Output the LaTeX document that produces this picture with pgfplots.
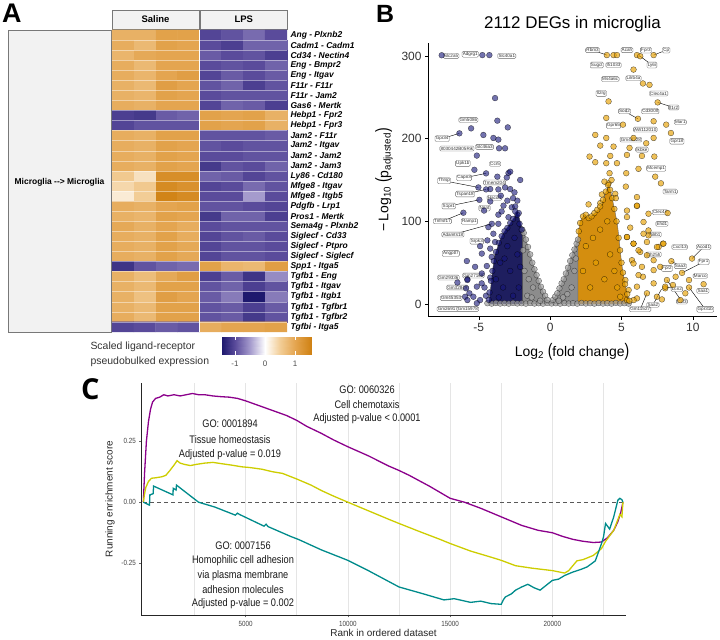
\documentclass[border=0pt]{standalone}
\usepackage{fontspec}
\setmainfont{Liberation Sans}
\newfontfamily\narrow[FakeStretch=0.84]{Liberation Sans}
\newfontfamily\osans{Open Sans}
\usepackage{graphicx}
\usepackage{pgfplots}
\pgfplotsset{compat=1.18}

\definecolor{gpurple}{RGB}{139,0,139}
\definecolor{gyellow}{RGB}{205,205,0}
\definecolor{gteal}{RGB}{0,139,139}
\definecolor{vnavy}{RGB}{20,20,120}
\definecolor{vnavyd}{RGB}{30,30,95}
\definecolor{vorange}{RGB}{230,159,0}
\definecolor{vorangeD}{RGB}{212,142,15}
\definecolor{vgrey}{RGB}{160,160,160}
\definecolor{vgreyD}{RGB}{140,140,140}
\definecolor{stripfill}{RGB}{242,242,242}
\definecolor{stripdraw}{RGB}{120,120,120}

\pgfplotsset{
 colormap={lrmap}{rgb255(0pt)=(30,25,110) rgb255(43pt)=(90,75,155) rgb255(93pt)=(165,155,205) rgb255(143pt)=(255,255,255) rgb255(193pt)=(242,205,150) rgb255(243pt)=(228,165,80) rgb255(296pt)=(208,130,20)},
 bluept/.style={only marks, mark=*, mark size=2.9bp, mark options={fill=vnavy, fill opacity=0.6, draw=black, draw opacity=0.7, line width=0.3bp}},
 orgpt/.style={only marks, mark=*, mark size=2.9bp, mark options={fill=vorange, fill opacity=0.65, draw=black, draw opacity=0.7, line width=0.3bp}},
 grypt/.style={only marks, mark=*, mark size=2.9bp, mark options={fill=vgrey, fill opacity=0.7, draw=black, draw opacity=0.6, line width=0.3bp}},
}
\tikzset{lbl/.style={draw=black!60, fill=white, fill opacity=0.9, text opacity=1, text=black!80, rounded corners=1.2bp, inner sep=0.8bp, line width=0.35bp, font=\fontsize{4.6}{5}\selectfont},
 con/.style={line width=0.4bp, black}}

\begin{document}
\begin{tikzpicture}
\useasboundingbox (0,0) rectangle (720bp,640bp);

% ---------------- Panel A ----------------
\begin{scope}[x=1bp,y=1bp]
\node[font=\bfseries\fontsize{27}{27}\selectfont, anchor=north west, inner sep=0] at (2,636) {A};
\draw[stripdraw, fill=stripfill, line width=0.6bp] (8,610) rectangle (111,308);
\node[font=\bfseries\fontsize{8.5}{9}\selectfont] at (59.5,458) {Microglia -{}-{}> Microglia};
\draw[stripdraw, fill=stripfill, line width=0.6bp] (112,630) rectangle (199,611);
\node[font=\bfseries\fontsize{9.5}{10}\selectfont] at (155.5,620.5) {Saline};
\draw[stripdraw, fill=stripfill, line width=0.6bp] (200.5,630) rectangle (287,611);
\node[font=\bfseries\fontsize{9.5}{10}\selectfont] at (243.75,620.5) {LPS};
\end{scope}

\begin{axis}[at={(112bp,610bp)}, anchor=north west, scale only axis, width=175bp, height=302bp,
 xmin=0.5, xmax=8.5, ymin=0.5, ymax=30.5, y dir=reverse,
 colormap name=lrmap, point meta min=-1.43, point meta max=1.53,
 axis line style={draw=none}, xtick=\empty, ytick={1,...,30}, yticklabel pos=right,
 yticklabels={Ang - Plxnb2, Cadm1 - Cadm1, Cd34 - Nectin4, Eng - Bmpr2, Eng - Itgav, F11r - F11r, F11r - Jam2, Gas6 - Mertk, Hebp1 - Fpr2, Hebp1 - Fpr3, Jam2 - F11r, Jam2 - Itgav, Jam2 - Jam2, Jam2 - Jam3, Ly86 - Cd180, Mfge8 - Itgav, Mfge8 - Itgb5, Pdgfb - Lrp1, Pros1 - Mertk, Sema4g - Plxnb2, Siglecf - Cd33, Siglecf - Ptpro, Siglecf - Siglecf, Spp1 - Itga5, Tgfb1 - Eng, Tgfb1 - Itgav, Tgfb1 - Itgb1, Tgfb1 - Tgfbr1, Tgfb1 - Tgfbr2, Tgfbi - Itga5},
 yticklabel style={font=\bfseries\itshape\fontsize{8.5}{9}\selectfont, text=black, anchor=west},
 major tick length=0pt, minor tick length=0pt,
 minor xtick={1.5,2.5,3.5,5.5,6.5,7.5}, minor ytick={1.5,2.5,...,29.5}, xminorgrids, yminorgrids,
 minor grid style={white, line width=0.5bp, opacity=0.45}, axis on top, clip=false]
\addplot[matrix plot*, mesh/cols=8, point meta=explicit] coordinates {
(1,1)[0.85] (2,1)[0.85] (3,1)[1.05] (4,1)[1.05] (5,1)[-1.05] (6,1)[-0.95] (7,1)[-0.8] (8,1)[-1.0]
(1,2)[0.9] (2,2)[0.75] (3,2)[1.05] (4,2)[1.0] (5,2)[-1.0] (6,2)[-1.1] (7,2)[-0.85] (8,2)[-0.85]
(1,3)[0.8] (2,3)[0.95] (3,3)[1.0] (4,3)[1.0] (5,3)[-0.9] (6,3)[-1.0] (7,3)[-0.95] (8,3)[-1.1]
(1,4)[0.9] (2,4)[0.75] (3,4)[1.0] (4,4)[1.0] (5,4)[-1.0] (6,4)[-0.95] (7,4)[-1.0] (8,4)[-0.85]
(1,5)[0.9] (2,5)[0.8] (3,5)[1.0] (4,5)[1.1] (5,5)[-1.05] (6,5)[-0.9] (7,5)[-1.0] (8,5)[-0.9]
(1,6)[0.85] (2,6)[0.75] (3,6)[1.1] (4,6)[1.0] (5,6)[-0.95] (6,6)[-0.85] (7,6)[-1.1] (8,6)[-0.95]
(1,7)[0.85] (2,7)[0.8] (3,7)[1.05] (4,7)[1.0] (5,7)[-1.0] (6,7)[-0.95] (7,7)[-0.95] (8,7)[-0.95]
(1,8)[0.9] (2,8)[0.85] (3,8)[1.0] (4,8)[1.0] (5,8)[-1.05] (6,8)[-0.85] (7,8)[-0.9] (8,8)[-1.1]
(1,9)[-1.1] (2,9)[-1.15] (3,9)[-0.9] (4,9)[-0.85] (5,9)[1.05] (6,9)[1.0] (7,9)[1.05] (8,9)[0.85]
(1,10)[-1.05] (2,10)[-0.95] (3,10)[-0.95] (4,10)[-0.95] (5,10)[1.05] (6,10)[1.0] (7,10)[1.05] (8,10)[0.85]
(1,11)[0.9] (2,11)[0.85] (3,11)[1.05] (4,11)[1.05] (5,11)[-0.95] (6,11)[-0.95] (7,11)[-0.95] (8,11)[-0.9]
(1,12)[0.9] (2,12)[0.85] (3,12)[1.05] (4,12)[1.0] (5,12)[-0.95] (6,12)[-1.0] (7,12)[-0.95] (8,12)[-0.95]
(1,13)[0.9] (2,13)[0.85] (3,13)[1.05] (4,13)[1.0] (5,13)[-1.0] (6,13)[-1.0] (7,13)[-0.95] (8,13)[-0.95]
(1,14)[0.9] (2,14)[0.85] (3,14)[1.05] (4,14)[1.0] (5,14)[-1.15] (6,14)[-0.95] (7,14)[-1.0] (8,14)[-0.85]
(1,15)[0.55] (2,15)[0.3] (3,15)[1.35] (4,15)[1.35] (5,15)[-0.85] (6,15)[-0.9] (7,15)[-1.05] (8,15)[-0.95]
(1,16)[0.4] (2,16)[0.55] (3,16)[1.4] (4,16)[1.3] (5,16)[-1.05] (6,16)[-1.0] (7,16)[-0.8] (8,16)[-0.95]
(1,17)[0.2] (2,17)[0.5] (3,17)[1.5] (4,17)[1.4] (5,17)[-1.0] (6,17)[-1.0] (7,17)[-0.5] (8,17)[-1.0]
(1,18)[0.9] (2,18)[0.85] (3,18)[1.0] (4,18)[1.05] (5,18)[-0.95] (6,18)[-0.95] (7,18)[-1.0] (8,18)[-1.05]
(1,19)[0.85] (2,19)[0.8] (3,19)[1.05] (4,19)[1.0] (5,19)[-1.15] (6,19)[-0.85] (7,19)[-0.85] (8,19)[-1.1]
(1,20)[0.95] (2,20)[0.85] (3,20)[1.0] (4,20)[0.9] (5,20)[-1.0] (6,20)[-0.95] (7,20)[-0.95] (8,20)[-0.95]
(1,21)[0.9] (2,21)[0.85] (3,21)[1.05] (4,21)[0.9] (5,21)[-1.05] (6,21)[-0.95] (7,21)[-0.9] (8,21)[-1.0]
(1,22)[0.9] (2,22)[0.85] (3,22)[1.05] (4,22)[0.95] (5,22)[-1.05] (6,22)[-0.95] (7,22)[-0.95] (8,22)[-1.0]
(1,23)[0.9] (2,23)[0.85] (3,23)[1.05] (4,23)[0.95] (5,23)[-1.05] (6,23)[-0.95] (7,23)[-0.95] (8,23)[-1.0]
(1,24)[-1.2] (2,24)[-0.95] (3,24)[-0.85] (4,24)[-0.8] (5,24)[1.05] (6,24)[0.8] (7,24)[0.75] (8,24)[1.1]
(1,25)[0.85] (2,25)[0.7] (3,25)[0.95] (4,25)[1.1] (5,25)[-1.1] (6,25)[-0.9] (7,25)[-1.2] (8,25)[-0.6]
(1,26)[0.85] (2,26)[0.75] (3,26)[1.05] (4,26)[1.05] (5,26)[-0.95] (6,26)[-0.85] (7,26)[-1.1] (8,26)[-0.95]
(1,27)[0.85] (2,27)[0.65] (3,27)[1.1] (4,27)[1.0] (5,27)[-0.9] (6,27)[-0.7] (7,27)[-1.43] (8,27)[-0.7]
(1,28)[0.85] (2,28)[0.75] (3,28)[1.05] (4,28)[1.05] (5,28)[-0.95] (6,28)[-0.9] (7,28)[-1.1] (8,28)[-0.9]
(1,29)[0.9] (2,29)[0.75] (3,29)[1.05] (4,29)[1.05] (5,29)[-0.95] (6,29)[-0.9] (7,29)[-1.15] (8,29)[-0.95]
(1,30)[-1.05] (2,30)[-1.0] (3,30)[-0.9] (4,30)[-0.95] (5,30)[0.9] (6,30)[1.0] (7,30)[1.0] (8,30)[1.05]
};
\draw[white, line width=1.6bp] (axis cs:4.5,0.5) -- (axis cs:4.5,30.5);
\end{axis}

% colour bar
\begin{axis}[at={(222bp,303bp)}, anchor=north west, scale only axis, width=89bp, height=18bp,
 xmin=-1.43, xmax=1.53, ymin=0, ymax=1, view={0}{90}, hide axis, colormap name=lrmap,
 point meta min=-1.43, point meta max=1.53, clip=false]
\addplot3[surf, shader=interp, point meta=x, mesh/rows=2] coordinates {
(-1.43,0,0) (-1,0,0) (-0.5,0,0) (0,0,0) (0.5,0,0) (1,0,0) (1.53,0,0)
(-1.43,1,0) (-1,1,0) (-0.5,1,0) (0,1,0) (0.5,1,0) (1,1,0) (1.53,1,0)
};
\end{axis}
\begin{scope}[x=1bp,y=1bp]
\node[font=\fontsize{10.5}{11}\selectfont, text=black!80, anchor=west] at (87,293) {Scaled ligand-receptor};
\node[font=\fontsize{10.5}{11}\selectfont, text=black!80, anchor=west] at (87,278) {pseudobulked expression};
\foreach \xx in {234.9,265,295.1}{
 \draw[white, line width=0.6bp] (\xx,303) -- (\xx,299.5);
 \draw[white, line width=0.6bp] (\xx,288.5) -- (\xx,285);
}
\node[font=\fontsize{8}{8}\selectfont, text=black!70] at (234.9,276) {-1};
\node[font=\fontsize{8}{8}\selectfont, text=black!70] at (265,276) {0};
\node[font=\fontsize{8}{8}\selectfont, text=black!70] at (295.1,276) {1};

% ---------------- Panel B texts ----------------
\node[font=\bfseries\fontsize{25}{25}\selectfont, anchor=north west, inner sep=0] at (376,635) {B};
\node[font=\fontsize{17}{17}\selectfont] at (572.5,616) {2112 DEGs in microglia};
\node[rotate=90, font=\fontsize{14}{14}\selectfont] at (384,460) {−\,Log\textsubscript{10} \scalebox{1}[1.3]{(}p\textsubscript{adjusted}\scalebox{1}[1.3]{)}};
\node[font=\fontsize{14}{14}\selectfont] at (572,288) {Log\textsubscript{2} \scalebox{1}[1.3]{(}fold change\scalebox{1}[1.3]{)}};
\end{scope}

\begin{axis}[at={(428bp,597.3bp)}, anchor=north west, scale only axis, width=289bp, height=274bp,
 xmin=-8.56, xmax=11.69, ymin=-15.3, ymax=316,
 axis x line*=bottom, axis y line*=left, axis line style={line width=0.8bp, black, -},
 xtick={-5,0,5,10}, ytick={0,100,200,300}, tick align=outside, major tick length=3bp,
 tick style={line width=0.6bp, black},
 tick label style={font=\fontsize{12}{12}\selectfont, text=black!80},
 /pgf/number format/assume math mode=true, clip=false]
% dense regions
\addplot[fill=vgreyD, draw=black!60, line width=0.4bp] coordinates {(-1.95,0) (-1.95,93) (-1.8,85) (-1.6,72) (-1.4,60) (-1.2,48) (-1.0,38) (-0.8,28) (-0.6,19) (-0.4,11) (-0.2,5) (0,1) (0.2,5) (0.4,10) (0.6,17) (0.8,25) (1.0,32) (1.2,42) (1.4,52) (1.6,62) (1.8,72) (1.95,80) (1.95,0)} --cycle;
\addplot[fill=vnavyd, draw=black!70, line width=0.4bp] coordinates {(-1.95,0) (-1.95,88) (-2.1,100) (-2.3,112) (-2.5,105) (-2.7,100) (-2.9,95) (-3.1,90) (-3.3,85) (-3.5,78) (-3.7,68) (-3.9,58) (-4.0,45) (-4.1,30) (-4.2,15) (-4.3,0)} --cycle;
\addplot[fill=vorangeD, draw=black!60, line width=0.4bp] coordinates {(1.95,0) (1.95,85) (2.1,100) (2.4,108) (2.7,104) (3.0,108) (3.3,113) (3.6,120) (3.9,135) (4.1,145) (4.3,132) (4.5,115) (4.7,98) (4.85,75) (5.0,50) (5.2,28) (5.4,12) (5.6,0)} --cycle;
% grey points
\addplot[grypt] coordinates {(-4.4,1) (-4.1,0.5) (-3.8,1.2) (-3.5,0.6) (-3.2,1) (-2.9,0.5) (-2.6,1.3) (-2.3,0.7) (-2.0,1) (-1.7,0.5) (-1.4,1.2) (-1.1,0.6) (-0.8,1) (-0.5,0.5) (-0.2,1.3) (0.1,0.7) (0.4,1) (0.7,0.5) (1.0,1.2) (1.3,0.6) (1.6,1) (1.9,0.5) (2.2,1.3) (2.5,0.7) (2.8,1) (3.1,0.5) (3.4,1.2) (3.7,0.6) (4.0,1) (4.3,0.5) (4.6,1.3) (4.9,0.7) (5.2,1) (5.5,0.5)
(-1.95,90) (-1.85,86) (-1.7,78) (-1.55,69) (-1.4,60) (-1.25,50) (-1.1,42) (-0.95,35) (-0.8,28) (-0.65,21) (-0.5,15) (-0.35,10) (-0.2,5) (0.2,5) (0.35,9) (0.5,13) (0.65,19) (0.8,25) (0.95,30) (1.1,37) (1.25,44) (1.4,52) (1.55,59) (1.7,66) (1.85,73) (1.95,78)
(-1.8,40) (-1.5,30) (-1.2,20) (-1.6,10) (1.5,20) (1.7,40) (1.2,12) (1.8,55) (-1.9,65) (-1.3,8) (0.9,8) (-0.7,4) (0.6,4)};
% blue points
\addplot[bluept] coordinates {(-7.6,300.8) (-4.75,301) (-4.26,301) (-3.86,249) (-3.7,221.7) (-2.97,213.6) (-5.54,212.4) (-4.68,204.4) (-3.98,200.8) (-6.36,206.4) (-3.63,198.8) (-3.58,188.3) (-3.16,188.3) (-5.14,179.5) (-5.31,162.3) (-4.49,158) (-2.92,158.4) (-2.8,160) (-3.7,154) (-3.04,153) (-2.1,150) (-5.03,141) (-4.2,139) (-4.49,138.6) (-3.63,138.6) (-3.16,141) (-2.8,139) (-3.46,131) (-4.96,126) (-4.2,124) (-3.27,119) (-2.69,117) (-2.45,118) (-6.08,110.4) (-4.63,113) (-3.63,108) (-2.92,105) (-4.09,97) (-3.63,97) (-4.33,93) (-3.98,85) (-4.4,77) (-3.86,75) (-4.91,70) (-4.2,67) (-4.79,61) (-4.1,57) (-5.84,52) (-5.26,45) (-4.44,46) (-5.8,30) (-4.79,37) (-4.2,32) (-5.89,19) (-5.14,21) (-5.66,13) (-5.96,8.8) (-5.8,4.8) (-5.38,8.8) (-4.91,4.8) (-5.14,1) (-6.5,26) (-5.8,29) (-2.3,125) (-2.6,128) (-2.2,110) (-3.4,112) (-2.5,135) (-3.0,125) (-4.6,20) (-4.5,10) (-4.8,25)
(-2.0,90) (-2.15,97) (-2.3,108) (-2.45,112) (-2.6,103) (-2.8,98) (-3.0,92) (-3.2,88) (-3.4,82) (-3.6,74) (-3.8,63) (-3.95,52) (-4.05,40) (-4.15,28) (-4.25,14) (-4.3,5)
(-2.5,80) (-3.0,70) (-3.5,50) (-2.3,60) (-3.8,30) (-2.8,40) (-3.3,20) (-2.2,20) (-2.6,10) (-3.6,8) (-2.1,45) (-3.2,55)};
% orange points
\addplot[orgpt] coordinates {(3.97,301) (4.44,301) (4.68,301) (6.08,301) (6.31,299.6) (7.25,301) (5.84,283.5) (6.5,266.7) (6.96,265) (4.09,245) (7.53,243.8) (6.15,224) (3.93,225) (7.25,221) (8.13,216.9) (5.1,216.9) (8.46,206.8) (3.16,204.5) (3.93,200.8) (5.84,200.8) (7.25,200.8) (3.51,191.6) (4.44,190.4) (5.56,188.8) (6.73,194.4) (2.76,178.3) (4.21,179.1) (5.38,180.3) (6.43,179.1) (7.3,178.3) (3.16,171.5) (3.93,170.3) (4.68,170.3) (6.19,163.5) (5.33,158.2) (4.16,158.2) (7.36,154) (7.76,146) (5.3,142) (4.09,146) (3.62,132.5) (4.56,133.3) (6.08,129.3) (2.69,120.5) (3.51,122) (6.08,118.5) (6.89,109.2) (8.23,110) (5.38,105.2) (6.54,99.2) (5.61,92.4) (6.89,83) (5.38,81) (6.78,75) (7.9,73) (5.84,73) (7.6,69) (6.31,63) (5.73,53) (7.25,53) (8.49,51.8) (9.24,37.7) (6.43,45) (7.71,45) (9.94,55) (8.79,33) (9.73,29) (6.5,33) (6.08,21) (7.25,25) (8.06,19)
(8.06,21) (8.18,29) (8.6,23) (9.73,20) (10.75,24) (6.78,13) (7.48,8.8) (6.08,6.8) (7.83,5.6) (9.12,4.8) (9.47,13) (5.38,4.8) (5.85,4.8) (4.91,8.8) (5.5,16.9) (5.27,29) (6.19,35) (7.25,41) (5.84,49) (6.78,59) (6.19,65) (7.48,69) (7.94,73) (5.84,73) (5.38,81) (6.54,85) (5.38,113) (6.08,119) (6.89,89)
(2.0,88) (2.1,98) (2.3,106) (2.5,108) (2.7,104) (2.9,106) (3.1,110) (3.3,114) (3.5,118) (3.7,126) (3.9,136) (4.05,144) (4.2,138) (4.35,128) (4.5,115) (4.65,100) (4.8,80) (4.9,65) (5.0,50) (5.1,38) (5.25,24) (5.4,12) (5.55,4)
(2.5,70) (3.0,80) (3.5,90) (4.0,100) (2.3,40) (3.2,50) (4.2,60) (2.8,20) (3.8,30) (4.5,40) (4.7,20) (4.3,150) (3.8,148) (4.6,128)};
% gene labels (left)
\draw[con] (axis cs:-7.57,200) -- (axis cs:-6.36,206.4);
\draw[con] (axis cs:-7.43,149) -- (axis cs:-5.03,141);
\draw[con] (axis cs:-6.03,152.6) -- (axis cs:-4.49,158);
\draw[con] (axis cs:-5.96,133) -- (axis cs:-4.49,138.6);
\draw[con] (axis cs:-7.1,118.5) -- (axis cs:-4.96,126);
\draw[con] (axis cs:-7.55,100) -- (axis cs:-6.08,110.4);
\draw[con] (axis cs:-6.82,84) -- (axis cs:-4.09,97);
\node[lbl] at (axis cs:-6.94,300) {Slc2a5};
\node[lbl] at (axis cs:-5.6,302) {Adgrg1};
\node[lbl] at (axis cs:-3.04,300) {Slc40a1};
\node[lbl] at (axis cs:-5.73,222.5) {Gm5086};
\node[lbl] at (axis cs:-7.57,200) {Gpr34};
\node[lbl] at (axis cs:-6.54,188) {8030442B05Rik};
\node[lbl] at (axis cs:-4.6,190) {Slc46a3};
\node[lbl] at (axis cs:-6.12,170) {Upk1b};
\node[lbl] at (axis cs:-3.86,169.5) {Ccr5};
\node[lbl] at (axis cs:-7.43,149) {Thrsp};
\node[lbl] at (axis cs:-6.03,152.6) {Capn3};
\node[lbl] at (axis cs:-3.9,147) {Tmem204};
\node[lbl] at (axis cs:-5.96,133) {Tspan18};
\node[lbl] at (axis cs:-3.9,128.5) {Hacd4};
\node[lbl] at (axis cs:-7.1,118.5) {S1pr1};
\node[lbl] at (axis cs:-4.6,116) {Npnt};
\node[lbl] at (axis cs:-7.55,100) {Tnfrsf17};
\node[lbl] at (axis cs:-5.66,100) {Ramp1};
\node[lbl] at (axis cs:-6.82,84) {Adamts18};
\node[lbl] at (axis cs:-5.14,76) {Srpk3};
\node[lbl] at (axis cs:-6.96,61) {Angptl7};
\node[lbl] at (axis cs:-7.13,32) {Gm29336};
\node[lbl] at (axis cs:-5.38,34.5) {Gm27168};
\node[lbl] at (axis cs:-6.5,20) {Gm32849};
\node[lbl] at (axis cs:-6.94,7) {Gm45353};
\node[lbl] at (axis cs:-7.17,-6) {Gm26917};
\node[lbl] at (axis cs:-5.77,-6) {Gm15978};
% gene labels (right)
\draw[con] (axis cs:2.97,307) -- (axis cs:3.97,301);
\draw[con] (axis cs:8.13,307) -- (axis cs:7.25,301);
\draw[con] (axis cs:7.13,289) -- (axis cs:6.31,299.6);
\draw[con] (axis cs:8.65,237.7) -- (axis cs:7.53,243.8);
\draw[con] (axis cs:5.21,233) -- (axis cs:6.15,224);
\draw[con] (axis cs:10.75,69) -- (axis cs:9.94,55);
\draw[con] (axis cs:10.75,51) -- (axis cs:9.24,37.7);
\draw[con] (axis cs:9.12,45.8) -- (axis cs:8.49,51.8);
\draw[con] (axis cs:8.88,18) -- (axis cs:8.06,21);
\draw[con] (axis cs:7.2,-1) -- (axis cs:7.8,18);
\draw[con] (axis cs:9.23,3) -- (axis cs:8.18,29);
\draw[con] (axis cs:6.31,-6.4) -- (axis cs:6.78,13);
\draw[con] (axis cs:10.87,-6.4) -- (axis cs:9.73,20);
\node[lbl] at (axis cs:2.97,307) {Rbm3};
\node[lbl] at (axis cs:5.38,307) {Acah};
\node[lbl] at (axis cs:6.71,307) {Fpr3};
\node[lbl] at (axis cs:8.13,307) {Cp};
\node[lbl] at (axis cs:3.27,289) {Sugct};
\node[lbl] at (axis cs:4.44,289) {Ifi1033};
\node[lbl] at (axis cs:7.13,289) {Ly6i};
\node[lbl] at (axis cs:4.21,272) {Ms4a6c};
\node[lbl] at (axis cs:5.84,273) {Lilrb4a};
\node[lbl] at (axis cs:3.58,254.6) {Il2rg};
\node[lbl] at (axis cs:7.6,254.6) {Clec4a1};
\node[lbl] at (axis cs:8.65,237.7) {Il1r2};
\node[lbl] at (axis cs:5.21,233) {Sod2};
\node[lbl] at (axis cs:7.01,233) {Cd300lf};
\node[lbl] at (axis cs:9.12,220) {Mar1};
\node[lbl] at (axis cs:4.44,215.7) {Gpr65};
\node[lbl] at (axis cs:6.66,211) {AW112010};
\node[lbl] at (axis cs:8.88,196.8) {Gpr18};
\node[lbl] at (axis cs:5.66,198.8) {Gm48228};
\node[lbl] at (axis cs:6.43,186.7) {Ikbke};
\node[lbl] at (axis cs:7.43,164) {Mcemp1};
\node[lbl] at (axis cs:8.41,136) {Tarm1};
\node[lbl] at (axis cs:7.71,111) {Clec4e};
\node[lbl] at (axis cs:7.83,97) {Ehd1};
\node[lbl] at (axis cs:7.32,84) {Pilrb1};
\node[lbl] at (axis cs:9.07,69) {Cxcl13};
\node[lbl] at (axis cs:10.75,69) {Acod1};
\node[lbl] at (axis cs:7.25,60) {Ch25h};
\node[lbl] at (axis cs:9.12,45.8) {Saa3};
\node[lbl] at (axis cs:8.18,43) {Fpr2};
\node[lbl] at (axis cs:10.75,51) {Fpr1};
\node[lbl] at (axis cs:10.52,34) {Marco};
\node[lbl] at (axis cs:8.88,18) {Lcn2};
\node[lbl] at (axis cs:10.7,16) {Saa1};
\node[lbl] at (axis cs:7.2,-1) {Saa2};
\node[lbl] at (axis cs:9.23,3) {Csf3};
\node[lbl] at (axis cs:6.31,-6.4) {Gm11527};
\node[lbl] at (axis cs:10.87,-6.4) {Gpr31b};
\end{axis}

% ---------------- Panel C ----------------
\begin{axis}[at={(141.3bp,257bp)}, anchor=north west, scale only axis, width=484.7bp, height=232.3bp,
 xmin=-100, xmax=23600, ymin=-0.463, ymax=0.488, scaled x ticks=false, scaled y ticks=false,
 axis x line*=bottom, axis y line*=left, axis line style={line width=0.6bp, black!85, -},
 xtick={5000,10000,15000,20000}, xticklabels={5000,10000,15000,20000},
 minor xtick={2500,7500,12500,17500,22500},
 ytick={-0.25,0,0.25}, yticklabels={-0.25,0.00,0.25},
 xmajorgrids, xminorgrids, major grid style={black!10, line width=0.5bp}, minor grid style={black!10, line width=0.5bp},
 tick align=outside, major tick length=2bp, minor tick length=0pt, tick style={black!60, line width=0.5bp},
 tick label style={font=\narrow\fontsize{7.5}{7.5}\selectfont, text=black!75},
 clip=false]
\addplot[black!65, dash pattern=on 4bp off 3bp, line width=1bp] coordinates {(0,0) (23450,0)};
\addplot[gpurple, line width=1.3bp] coordinates {(0,0) (60,0.12) (150,0.25) (250,0.33) (350,0.38) (450,0.41) (600,0.425) (800,0.43) (1000,0.44) (1200,0.435) (1500,0.44) (1800,0.435) (2100,0.44) (2400,0.445) (2700,0.44) (3000,0.44) (3400,0.435) (3800,0.432) (4200,0.43) (4600,0.425) (5000,0.415) (5500,0.40) (6000,0.385) (6500,0.37) (7000,0.355) (7500,0.335) (8000,0.31) (8700,0.282) (9300,0.255) (10000,0.227) (11000,0.19) (12000,0.148) (12500,0.13) (13000,0.11) (14000,0.065) (15000,0.016) (15700,0) (16500,-0.025) (17500,-0.06) (18500,-0.095) (19300,-0.115) (20000,-0.125) (20500,-0.14) (21000,-0.152) (21500,-0.16) (22000,-0.165) (22400,-0.163) (22700,-0.145) (23000,-0.115) (23200,-0.08) (23350,-0.04) (23450,0)};
\addplot[gyellow, line width=1.3bp] coordinates {(0,0) (50,0.03) (120,0.06) (250,0.085) (400,0.098) (600,0.10) (900,0.104) (1100,0.11) (1300,0.13) (1500,0.152) (1650,0.17) (1800,0.16) (2000,0.155) (2300,0.15) (2600,0.155) (3000,0.16) (3400,0.163) (3800,0.158) (4300,0.152) (4800,0.145) (5200,0.142) (5800,0.135) (6300,0.125) (6800,0.118) (7500,0.095) (8200,0.07) (8700,0.048) (9300,0.025) (10000,0) (11000,-0.035) (12000,-0.07) (12500,-0.087) (13500,-0.12) (14500,-0.152) (15000,-0.169) (16000,-0.2) (17000,-0.225) (17500,-0.238) (18200,-0.26) (19000,-0.27) (20000,-0.28) (20600,-0.29) (20800,-0.28) (21200,-0.24) (21500,-0.235) (22000,-0.218) (22400,-0.19) (22600,-0.16) (23000,-0.115) (23300,-0.05) (23400,-0.06) (23450,0)};
\addplot[gteal, line width=1.3bp] coordinates {(0,0) (300,-0.012) (320,0.03) (480,0.035) (500,0.066) (1450,0.03) (1460,0.057) (1600,0.05) (1620,0.07) (2700,0) (3500,-0.02) (4500,-0.053) (4600,-0.045) (4700,-0.05) (5900,-0.098) (6000,-0.09) (6100,-0.1) (7200,-0.14) (7600,-0.153) (8700,-0.195) (10000,-0.238) (11000,-0.28) (12500,-0.347) (13600,-0.373) (14700,-0.40) (15200,-0.395) (16000,-0.41) (16500,-0.405) (17000,-0.415) (17500,-0.418) (17600,-0.40) (17700,-0.388) (18000,-0.375) (18200,-0.36) (18500,-0.347) (18800,-0.336) (19100,-0.35) (19400,-0.36) (19700,-0.34) (20000,-0.32) (20300,-0.315) (20600,-0.30) (21000,-0.286) (21400,-0.275) (21700,-0.265) (22100,-0.24) (22400,-0.17) (22500,-0.142) (22600,-0.087) (22800,-0.11) (23000,-0.06) (23200,0.008) (23300,0.016) (23400,0.01) (23450,0)};
\end{axis}
\begin{scope}[x=1bp,y=1bp]
\node[font=\osans\bfseries\fontsize{29}{29}\selectfont, anchor=north west, inner sep=0] at (81,262) {C};
\node[rotate=90, font=\fontsize{10}{10}\selectfont, text=black!85] at (110,141) {Running enrichment score};
\node[font=\fontsize{10}{10}\selectfont, text=black!85] at (383.5,7) {Rank in ordered dataset};
\begin{scope}[every node/.style={font=\narrow\fontsize{11}{11}\selectfont, text=black!90}]
\node at (367,250) {GO: 0060326};
\node at (367,235.5) {Cell chemotaxis};
\node at (367,221) {Adjusted p-value < 0.0001};
\node at (230,216) {GO: 0001894};
\node at (230,200) {Tissue homeostasis};
\node at (230,185) {Adjusted p-value = 0.019};
\node at (243,94) {GO: 0007156};
\node at (243,79) {Homophilic cell adhesion};
\node at (243,64.5) {via plasma membrane};
\node at (243,50) {adhesion molecules};
\node at (243,36) {Adjusted p-value = 0.002};
\end{scope}
\end{scope}
\end{tikzpicture}
\end{document}
